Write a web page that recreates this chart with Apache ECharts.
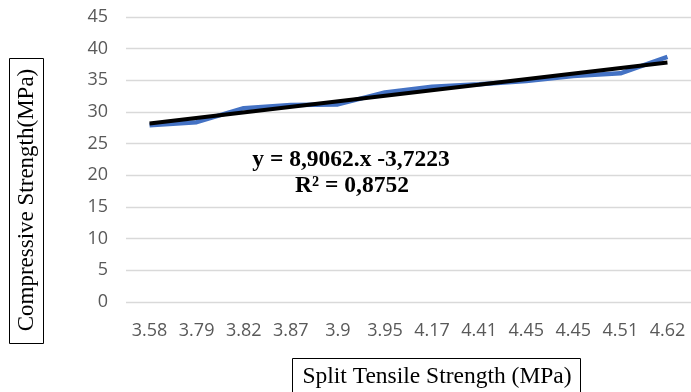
<!DOCTYPE html>
<html>
<head>
<meta charset="utf-8">
<script src="https://cdn.jsdelivr.net/npm/echarts@6/dist/echarts.min.js"></script>
<style>html,body{margin:0;padding:0;background:#fff;}#c{width:691px;height:392px;}</style>
</head>
<body>
<div id="c"></div>
<script>
var categories = ['3.58','3.79','3.82','3.87','3.9','3.95','4.17','4.41','4.45','4.45','4.51','4.62'];
var compressive = [27.9, 28.4, 30.6, 31.1, 31.2, 33.1, 34.0, 34.4, 34.9, 35.7, 36.1, 38.7];
var trendEnds = [28.2, 37.8];
var trend = categories.map(function(c, i){ return i === 0 ? trendEnds[0] : (i === categories.length - 1 ? trendEnds[1] : null); });
var yTicks = {min: 0, max: 45, interval: 5};
var equationText = 'y = 8,9062.x -3,7223';
var r2Text = 'R² = 0,8752';
var xTitle = 'Split Tensile Strength (MPa)';
var yTitle = 'Compressive Strength(MPa)';

var chart = echarts.init(document.getElementById('c'));
chart.setOption({
  animation: false,
  grid: {left: 126, right: 0, top: 17, bottom: 90, containLabel: false},
  xAxis: {
    type: 'category', data: categories, boundaryGap: true,
    axisLine: {show: false}, axisTick: {show: false},
    axisLabel: {color: '#595959', fontSize: 18, fontFamily: 'Open Sans', margin: 20, interval: 0}
  },
  yAxis: {
    type: 'value', min: yTicks.min, max: yTicks.max, interval: yTicks.interval,
    axisLine: {show: false}, axisTick: {show: false},
    splitLine: {lineStyle: {color: '#D9D9D9', width: 1.3}},
    axisLabel: {color: '#595959', fontSize: 18, fontFamily: 'Open Sans', margin: 18}
  },
  series: [
    {type: 'line', data: compressive, symbol: 'none', lineStyle: {color: '#4472C4', width: 4.5}, z: 2},
    {type: 'line', data: trend, connectNulls: true, symbol: 'none', lineStyle: {color: '#000000', width: 4}, z: 3}
  ],
  graphic: [
    {type: 'text', x: 351, y: 160, z: 10,
      style: {text: equationText, font: 'bold 23.5px "Liberation Serif"', fill: '#000', align: 'center', verticalAlign: 'middle'}},
    {type: 'text', x: 352, y: 186, z: 10,
      style: {text: r2Text, font: 'bold 23.5px "Liberation Serif"', fill: '#000', align: 'center', verticalAlign: 'middle'}},
    {type: 'rect', shape: {x: 9.5, y: 58.5, width: 34, height: 285}, style: {fill: '#fff', stroke: '#000', lineWidth: 1}, z: 10},
    {type: 'text', x: 27, y: 200, rotation: Math.PI / 2, z: 11,
      style: {text: yTitle, font: '23px "Liberation Serif"', fill: '#000', align: 'center', verticalAlign: 'middle'}},
    {type: 'rect', shape: {x: 292.5, y: 358.5, width: 288, height: 40}, style: {fill: '#fff', stroke: '#000', lineWidth: 1}, z: 10},
    {type: 'text', x: 437, y: 377, z: 11,
      style: {text: xTitle, font: '23.5px "Liberation Serif"', fill: '#000', align: 'center', verticalAlign: 'middle'}}
  ]
});
</script>
</body>
</html>
